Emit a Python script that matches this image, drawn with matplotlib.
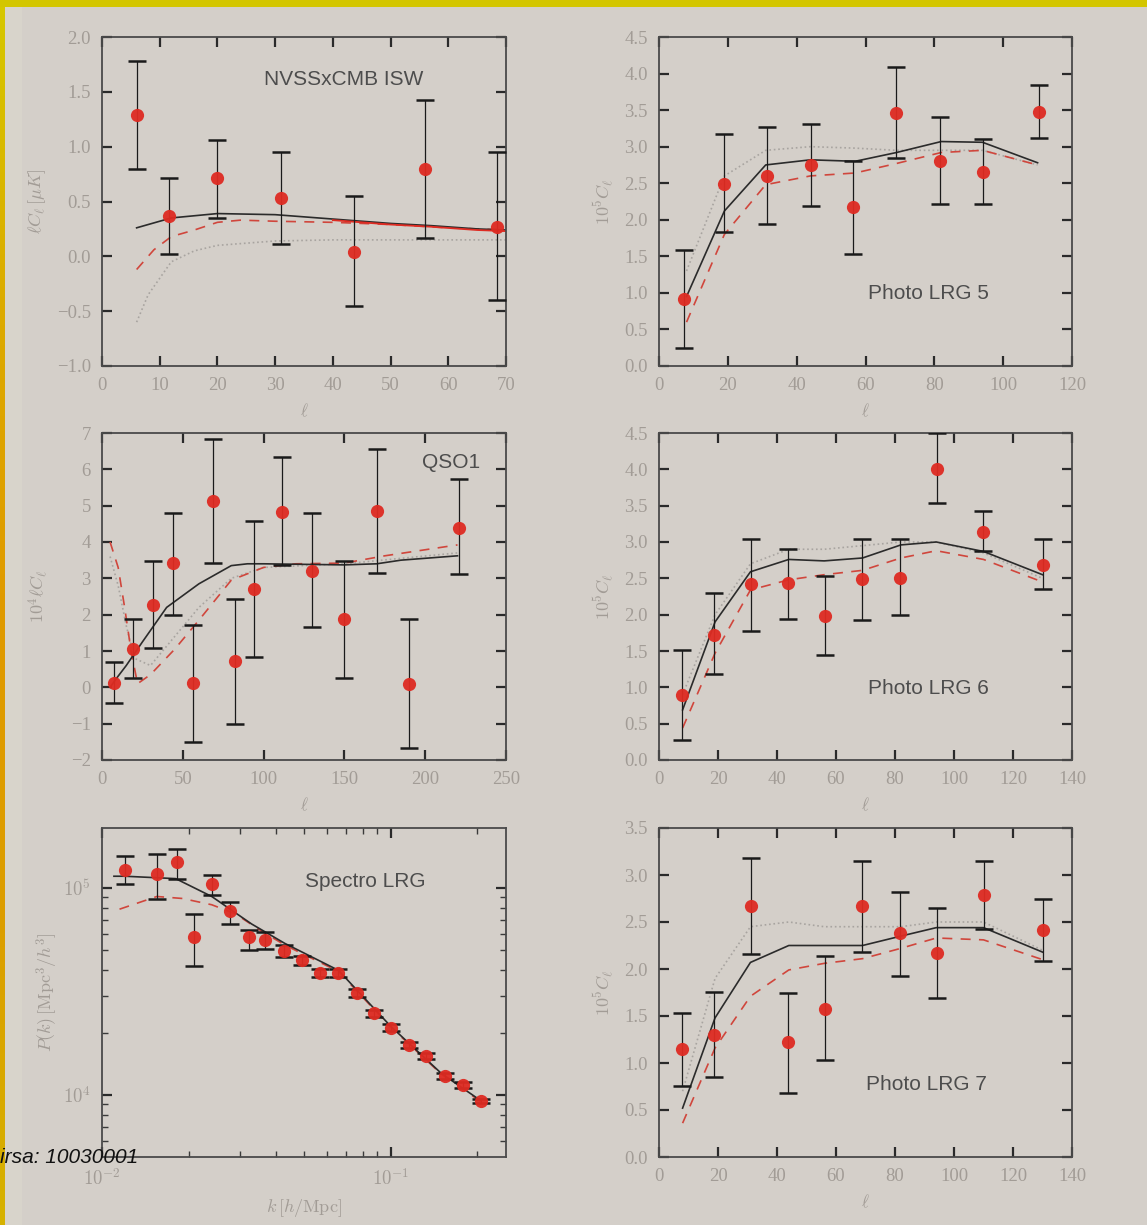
import numpy as np
import matplotlib
matplotlib.use("Agg")
import matplotlib.pyplot as plt
from matplotlib.ticker import MultipleLocator, FixedLocator, NullFormatter, LogLocator
from matplotlib.colors import LinearSegmentedColormap

plt.rcParams['mathtext.fontset'] = 'cm'

# ---------------- data ----------------
# NVSS x CMB ISW
isw_l = [6.0, 11.6, 20.0, 31.1, 43.6, 56.0, 68.4]
isw_v = [1.29, 0.37, 0.71, 0.53, 0.04, 0.80, 0.27]
isw_hi = [1.78, 0.71, 1.06, 0.95, 0.55, 1.43, 0.95]
isw_lo = [0.80, 0.02, 0.35, 0.11, -0.45, 0.17, -0.40]
isw_th_l = [6, 12, 20, 30, 40, 50, 57, 65, 70]
isw_th_solid = [0.26, 0.35, 0.39, 0.38, 0.34, 0.30, 0.28, 0.25, 0.24]
isw_th_dash_l = [6, 9, 12, 16, 20, 24, 30, 40, 50, 60, 70]
isw_th_dash = [-0.12, 0.06, 0.18, 0.24, 0.31, 0.33, 0.32, 0.31, 0.29, 0.26, 0.24]
isw_th_dot_l = [6, 8, 12, 16, 20, 30, 40, 55, 70]
isw_th_dot = [-0.60, -0.35, -0.05, 0.05, 0.10, 0.14, 0.15, 0.15, 0.15]

# Photo LRG 5
lrg5_l = [7.4, 18.8, 31.3, 44.1, 56.3, 68.9, 81.7, 94.1, 110.3]
lrg5_v = [0.91, 2.49, 2.60, 2.75, 2.18, 3.46, 2.81, 2.66, 3.48]
lrg5_hi = [1.59, 3.17, 3.27, 3.31, 2.81, 4.09, 3.41, 3.11, 3.85]
lrg5_lo = [0.25, 1.83, 1.94, 2.19, 1.53, 2.84, 2.22, 2.22, 3.12]
lrg5_th_l = [8, 19, 31, 44, 57, 69, 82, 94, 110]
lrg5_th_solid = [0.95, 2.12, 2.75, 2.82, 2.80, 2.92, 3.07, 3.06, 2.78]
lrg5_th_dash = [0.60, 1.80, 2.48, 2.60, 2.64, 2.77, 2.92, 2.95, 2.75]
lrg5_th_dot = [1.30, 2.60, 2.95, 3.00, 2.98, 2.95, 2.95, 2.95, 2.75]

# QSO1
qso_l = [7.4, 19.4, 31.3, 43.7, 56.1, 68.9, 82.3, 94.3, 111.2, 130.1, 150.0, 170.0, 190.2, 221.1]
qso_v = [0.13, 1.05, 2.27, 3.41, 0.11, 5.13, 0.72, 2.70, 4.83, 3.21, 1.87, 4.86, 0.08, 4.39]
qso_hi = [0.69, 1.88, 3.48, 4.79, 1.72, 6.83, 2.43, 4.58, 6.33, 4.79, 3.48, 6.55, 1.87, 5.73]
qso_lo = [-0.42, 0.25, 1.07, 1.99, -1.51, 3.41, -1.02, 0.84, 3.37, 1.65, 0.25, 3.15, -1.68, 3.12]
qso_th_l = [5, 9, 15, 25, 40, 60, 80, 90, 100, 150, 170, 185, 220]
qso_th_solid = [0.0, 0.25, 0.60, 1.25, 2.20, 2.85, 3.35, 3.40, 3.40, 3.37, 3.40, 3.50, 3.62]
qso_th_dash_l = [5, 10, 14, 18, 22, 30, 45, 60, 80, 100, 120, 150, 175, 220]
qso_th_dash = [4.0, 3.3, 2.2, 1.0, 0.1, 0.35, 1.05, 1.85, 2.95, 3.30, 3.40, 3.42, 3.62, 3.92]
qso_th_dot_l = [5, 10, 15, 20, 30, 45, 60, 80, 100, 150, 220]
qso_th_dot = [3.6, 2.8, 1.7, 0.8, 0.6, 1.4, 2.2, 3.0, 3.3, 3.4, 3.7]

# Photo LRG 6
lrg6_l = [7.7, 18.8, 31.1, 43.8, 56.3, 68.9, 81.7, 94.1, 109.9, 130.1]
lrg6_v = [0.89, 1.72, 2.42, 2.44, 1.98, 2.49, 2.50, 4.00, 3.14, 2.69]
lrg6_hi = [1.51, 2.30, 3.04, 2.91, 2.53, 3.04, 3.04, 4.50, 3.43, 3.04]
lrg6_lo = [0.28, 1.18, 1.78, 1.94, 1.45, 1.92, 1.99, 3.53, 2.87, 2.35]
lrg6_th_l = [8, 19, 31, 44, 56, 69, 82, 94, 110, 130]
lrg6_th_solid = [0.69, 1.90, 2.59, 2.76, 2.74, 2.78, 2.96, 3.00, 2.87, 2.55]
lrg6_th_dash = [0.44, 1.47, 2.34, 2.48, 2.55, 2.61, 2.78, 2.88, 2.76, 2.45]
lrg6_th_dot = [0.90, 2.00, 2.70, 2.90, 2.90, 2.95, 3.00, 3.00, 2.85, 2.50]

# Spectro LRG power spectrum
spec_k = [0.0120, 0.0155, 0.0182, 0.0209, 0.0241, 0.0278, 0.0322, 0.0368, 0.0426, 0.0493,
          0.0568, 0.0657, 0.0762, 0.0875, 0.100, 0.116, 0.133, 0.154, 0.178, 0.205]
spec_p = [1.22e5, 1.17e5, 1.33e5, 5.82e4, 1.04e5, 7.7e4, 5.8e4, 5.6e4, 4.97e4, 4.49e4,
          3.90e4, 3.90e4, 3.12e4, 2.48e4, 2.11e4, 1.74e4, 1.54e4, 1.24e4, 1.12e4, 9.36e3]
spec_hi = [1.42e5, 1.46e5, 1.54e5, 7.5e4, 1.16e5, 8.6e4, 6.3e4, 6.1e4, 5.3e4, 4.71e4,
           4.08e4, 4.08e4, 3.26e4, 2.58e4, 2.19e4, 1.80e4, 1.59e4, 1.28e4, 1.16e4, 9.6e3]
spec_lo = [1.05e5, 8.8e4, 1.10e5, 4.2e4, 9.2e4, 6.7e4, 5.0e4, 5.05e4, 4.62e4, 4.25e4,
           3.72e4, 3.72e4, 2.98e4, 2.38e4, 2.03e4, 1.68e4, 1.49e4, 1.20e4, 1.08e4, 9.1e3]
spec_th_k = [0.011, 0.012, 0.018, 0.024, 0.033, 0.043, 0.066, 0.100, 0.150, 0.205]
spec_th_solid = [1.14e5, 1.14e5, 1.11e5, 9.1e4, 6.7e4, 5.4e4, 4.0e4, 2.15e4, 1.27e4, 9.4e3]
spec_th_dash_k = [0.0115, 0.0155, 0.019, 0.024, 0.029, 0.035, 0.043, 0.066, 0.100, 0.150, 0.205]
spec_th_dash = [7.9e4, 9.1e4, 8.9e4, 8.3e4, 7.5e4, 6.3e4, 5.3e4, 3.95e4, 2.13e4, 1.26e4, 9.3e3]

# Photo LRG 7
lrg7_l = [7.9, 18.8, 31.2, 43.8, 56.3, 68.9, 81.7, 94.1, 110.2, 130.3]
lrg7_v = [1.15, 1.30, 2.67, 1.22, 1.57, 2.67, 2.38, 2.17, 2.79, 2.41]
lrg7_hi = [1.53, 1.76, 3.18, 1.75, 2.14, 3.15, 2.82, 2.65, 3.15, 2.75]
lrg7_lo = [0.76, 0.85, 2.16, 0.68, 1.03, 2.18, 1.93, 1.69, 2.43, 2.08]
lrg7_th_l = [8, 19, 31, 44, 56, 69, 82, 94, 110, 130]
lrg7_th_solid = [0.52, 1.48, 2.07, 2.25, 2.25, 2.25, 2.35, 2.44, 2.44, 2.18]
lrg7_th_dash = [0.36, 1.16, 1.71, 1.99, 2.06, 2.11, 2.22, 2.33, 2.31, 2.10]
lrg7_th_dot = [0.70, 1.90, 2.45, 2.50, 2.45, 2.45, 2.45, 2.50, 2.50, 2.20]

# ---------------- styling ----------------
BG = '#d4cfc9'
TICK_LABEL = '#a29c96'
SPINE = '#4a4a4a'
RED = '#de2b22'
TEXT = '#4d4d4d'

fig = plt.figure(figsize=(11.47, 12.25), dpi=100, facecolor=BG)

# gold frame along the top and left edges
frame = fig.add_axes([0, 0, 1, 1], zorder=-5)
frame.set_axis_off()
frame.set_xlim(0, 1147)
frame.set_ylim(1225, 0)
grad = np.linspace(0, 1, 256).reshape(-1, 1)
edge_cmap = LinearSegmentedColormap.from_list(
    'edge', ['#d6c800', '#dcab00', '#e09a00', '#dc9e00', '#d6b200'])
frame.imshow(grad, cmap=edge_cmap, extent=(0, 5, 1225, 0), aspect='auto')
frame.imshow(np.ones((2, 2, 3)) * np.array([0.89, 0.88, 0.82]), extent=(5, 22, 1225, 0),
             aspect='auto', alpha=0.35)
frame.add_patch(plt.Rectangle((0, 0), 1147, 7, color='#d3c600', lw=0))

col_x = [102 / 1147, 659 / 1147]
col_w = [(506 - 102) / 1147, (1072 - 659) / 1147]
row_y = [1 - 366 / 1225, 1 - 760 / 1225, 1 - 1157 / 1225]
row_h = [329 / 1225, 327 / 1225, 329 / 1225]


def make_ax(r, c):
    ax = fig.add_axes([col_x[c], row_y[r], col_w[c], row_h[r]])
    ax.set_facecolor(BG)
    for s in ax.spines.values():
        s.set_color(SPINE)
        s.set_linewidth(1.3)
    ax.tick_params(which='major', direction='in', length=7, width=1.6, color='#2a2a2a',
                   top=True, right=True, labelcolor=TICK_LABEL, labelsize=13.5, pad=8)
    ax.tick_params(which='minor', direction='in', length=4, width=1.0, color='#3a3a3a',
                   top=True, right=True)
    return ax


def fix_fonts(ax):
    for lab in ax.get_xticklabels() + ax.get_yticklabels():
        lab.set_family('Liberation Serif')


def data_points(ax, x, y, lo, hi):
    y = np.asarray(y)
    yerr = [y - np.asarray(lo), np.asarray(hi) - y]
    ax.errorbar(x, y, yerr=yerr, fmt='none', ecolor='#1a1a1a', elinewidth=0.9,
                capsize=6.5, capthick=1.8, zorder=3)
    ax.plot(x, y, 'o', color=RED, markersize=9.5, markeredgewidth=0, zorder=4,
            alpha=0.95)


def theory(ax, x, solid=None, dash=None, dot=None, xd=None, xdot=None):
    if dot is not None:
        ax.plot(xdot if xdot is not None else x, dot, ':', color='#a8a4a0', lw=1.2, zorder=2)
    if dash is not None:
        ax.plot(xd if xd is not None else x, dash, '--', color='#d0463c', lw=1.2,
                dashes=(6, 5), zorder=2)
    if solid is not None:
        ax.plot(x, solid, '-', color='#2b2b2b', lw=1.2, zorder=2)


def ell_label(ax):
    ax.set_xlabel(r'$\ell$', color=TICK_LABEL, fontsize=12, labelpad=6)


def panel_label(ax, x, y, s):
    ax.text(x, y, s, ha='center', va='center', fontsize=15, color=TEXT,
            family='Liberation Sans')


# ---- NVSS x CMB ISW ----
ax = make_ax(0, 0)
theory(ax, isw_th_l, solid=isw_th_solid, dash=isw_th_dash, xd=isw_th_dash_l,
       dot=isw_th_dot, xdot=isw_th_dot_l)
ax.plot(isw_th_l[4:], np.asarray(isw_th_solid[4:]) - 0.01, '-', color=RED, lw=1.3, zorder=2)
data_points(ax, isw_l, isw_v, isw_lo, isw_hi)
ax.set_xlim(0, 70)
ax.set_ylim(-1.0, 2.0)
ax.xaxis.set_major_locator(MultipleLocator(10))
ax.yaxis.set_major_locator(MultipleLocator(0.5))
ax.yaxis.set_major_formatter(lambda v, p: f'{v:.1f}'.replace('-', '\u2212'))
panel_label(ax, 41.8, 1.61, 'NVSSxCMB ISW')
ax.set_ylabel(r'$\ell C_\ell\,[\mu K]$', color=TICK_LABEL, fontsize=13, labelpad=6)
ell_label(ax)
fix_fonts(ax)

# ---- Photo LRG 5 ----
ax = make_ax(0, 1)
theory(ax, lrg5_th_l, solid=lrg5_th_solid, dash=lrg5_th_dash, dot=lrg5_th_dot)
data_points(ax, lrg5_l, lrg5_v, lrg5_lo, lrg5_hi)
ax.set_xlim(0, 120)
ax.set_ylim(0, 4.5)
ax.xaxis.set_major_locator(MultipleLocator(20))
ax.yaxis.set_major_locator(MultipleLocator(0.5))
ax.yaxis.set_major_formatter(lambda v, p: f'{v:.1f}')
panel_label(ax, 78.2, 0.99, 'Photo LRG 5')
ax.set_ylabel(r'$10^5 C_\ell$', color=TICK_LABEL, fontsize=13, labelpad=6)
ell_label(ax)
fix_fonts(ax)

# ---- QSO1 ----
ax = make_ax(1, 0)
theory(ax, qso_th_l, solid=qso_th_solid, dash=qso_th_dash, xd=qso_th_dash_l,
       dot=qso_th_dot, xdot=qso_th_dot_l)
data_points(ax, qso_l, qso_v, qso_lo, qso_hi)
ax.set_xlim(0, 250)
ax.set_ylim(-2, 7)
ax.xaxis.set_major_locator(MultipleLocator(50))
ax.yaxis.set_major_locator(MultipleLocator(1))
ax.yaxis.set_major_formatter(lambda v, p: f'{v:.0f}'.replace('-', '\u2212'))
panel_label(ax, 216, 6.2, 'QSO1')
ax.set_ylabel(r'$10^4 \ell C_\ell$', color=TICK_LABEL, fontsize=13, labelpad=14)
ell_label(ax)
fix_fonts(ax)

# ---- Photo LRG 6 ----
ax = make_ax(1, 1)
theory(ax, lrg6_th_l, solid=lrg6_th_solid, dash=lrg6_th_dash, dot=lrg6_th_dot)
data_points(ax, lrg6_l, lrg6_v, lrg6_lo, lrg6_hi)
ax.set_xlim(0, 140)
ax.set_ylim(0, 4.5)
ax.xaxis.set_major_locator(MultipleLocator(20))
ax.yaxis.set_major_locator(MultipleLocator(0.5))
ax.yaxis.set_major_formatter(lambda v, p: f'{v:.1f}')
panel_label(ax, 91.2, 0.99, 'Photo LRG 6')
ax.set_ylabel(r'$10^5 C_\ell$', color=TICK_LABEL, fontsize=13, labelpad=6)
ell_label(ax)
fix_fonts(ax)

# ---- Spectro LRG ----
ax = make_ax(2, 0)
ax.set_xscale('log')
ax.set_yscale('log')
ax.plot(spec_th_dash_k, spec_th_dash, '--', color='#d0463c', lw=1.2, dashes=(6, 5), zorder=2)
ax.plot(spec_th_k, spec_th_solid, '-', color='#2b2b2b', lw=1.2, zorder=2)
data_points(ax, spec_k, spec_p, spec_lo, spec_hi)
ax.set_xlim(10 ** -2.0, 10 ** -0.6)
ax.set_ylim(10 ** 3.70, 10 ** 5.29)
ax.xaxis.set_major_locator(FixedLocator([0.01, 0.1]))
ax.xaxis.set_minor_locator(LogLocator(base=10, subs=np.arange(2, 10)))
ax.xaxis.set_minor_formatter(NullFormatter())
ax.yaxis.set_major_locator(FixedLocator([1e4, 1e5]))
ax.yaxis.set_minor_locator(LogLocator(base=10, subs=np.arange(2, 10)))
ax.yaxis.set_minor_formatter(NullFormatter())
ax.xaxis.set_major_formatter(lambda v, p: r'$10^{%d}$' % round(np.log10(v)))
ax.yaxis.set_major_formatter(lambda v, p: r'$10^{%d}$' % round(np.log10(v)))
panel_label(ax, 0.0819, 1.07e5, 'Spectro LRG')
ax.set_ylabel(r'$P(k)\,[{\rm Mpc}^3/h^3]$', color=TICK_LABEL, fontsize=13, labelpad=2)
ax.set_xlabel(r'$k\,[h/{\rm Mpc}]$', color=TICK_LABEL, fontsize=13, labelpad=6)

# ---- Photo LRG 7 ----
ax = make_ax(2, 1)
theory(ax, lrg7_th_l, solid=lrg7_th_solid, dash=lrg7_th_dash, dot=lrg7_th_dot)
data_points(ax, lrg7_l, lrg7_v, lrg7_lo, lrg7_hi)
ax.set_xlim(0, 140)
ax.set_ylim(0, 3.5)
ax.xaxis.set_major_locator(MultipleLocator(20))
ax.yaxis.set_major_locator(MultipleLocator(0.5))
ax.yaxis.set_major_formatter(lambda v, p: f'{v:.1f}')
panel_label(ax, 90.7, 0.77, 'Photo LRG 7')
ax.set_ylabel(r'$10^5 C_\ell$', color=TICK_LABEL, fontsize=13, labelpad=6)
ell_label(ax)
fix_fonts(ax)

# catalogue stamp
fig.text(0.0, 1 - 1163 / 1225, 'irsa: 10030001', fontsize=15, style='italic',
         color='#111111', family='Liberation Sans', ha='left', va='baseline')

fig.savefig('out.png', dpi=100, facecolor=BG)
